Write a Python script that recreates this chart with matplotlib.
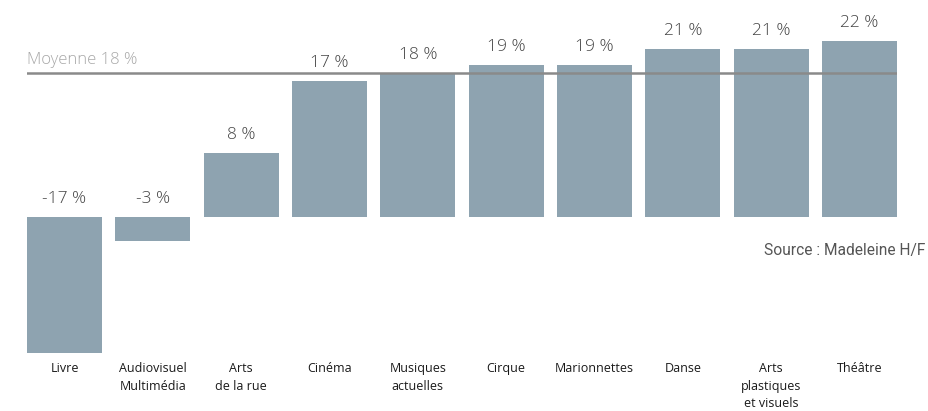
import matplotlib.pyplot as plt

# Data
categories = ["Livre", "Audiovisuel\nMultimédia", "Arts\nde la rue", "Cinéma",
              "Musiques\nactuelles", "Cirque", "Marionnettes", "Danse",
              "Arts\nplastiques\net visuels", "Théâtre"]
values = [-17, -3, 8, 17, 18, 19, 19, 21, 21, 22]
value_labels = ["-17 %", "-3 %", "8 %", "17 %", "18 %", "19 %", "19 %", "21 %", "21 %", "22 %"]
mean_value = 18

W, H = 929, 411
fig = plt.figure(figsize=(W / 100, H / 100), dpi=100)

# axes placed so that 1 % ~ 8 px, baseline at ~217 px from top
ax_left, ax_right = 27, 897
ax_top, ax_bottom = 30, 353
ax = fig.add_axes([ax_left / W, 1 - ax_bottom / H,
                   (ax_right - ax_left) / W, (ax_bottom - ax_top) / H])

bar_w = 0.85
x = list(range(len(categories)))
ax.bar(x, values, width=bar_w, color="#8ea3b0", zorder=2)
ax.set_xlim(-bar_w / 2, len(categories) - 1 + bar_w / 2)
ymin = -17
ax.set_ylim(ymin, ymin + (ax_bottom - ax_top) / 8.0)

# mean line over bars
ax.axhline(mean_value, color="#8a8a8a", lw=1.8, zorder=3)
ax.text(-bar_w / 2, mean_value + 0.6, "Moyenne 18 %", color="#a8a8a8",
        fontsize=12, family="Open Sans", fontweight="light",
        ha="left", va="bottom")

# value labels
for xi, v, lab in zip(x, values, value_labels):
    top = max(v, 0)
    ax.text(xi, top + 1.2, lab, ha="center", va="bottom", fontsize=12.5,
            family="Open Sans", fontweight="light", color="#444444")

ax.axis("off")

# category labels
for xi, cat in zip(x, categories):
    px = ax_left + (xi + bar_w / 2) / (len(categories) - 1 + bar_w) * (ax_right - ax_left)
    fig.text(px / W, 1 - 362 / H, cat, ha="center", va="top", fontsize=9,
             family="Open Sans", color="#1a1a1a", linespacing=1.45)

fig.text(925 / W, 1 - 250 / H, "Source : Madeleine H/F", ha="right", va="center",
         fontsize=11.2, family="Roboto", color="#555555")

fig.savefig("out.png", dpi=100)
